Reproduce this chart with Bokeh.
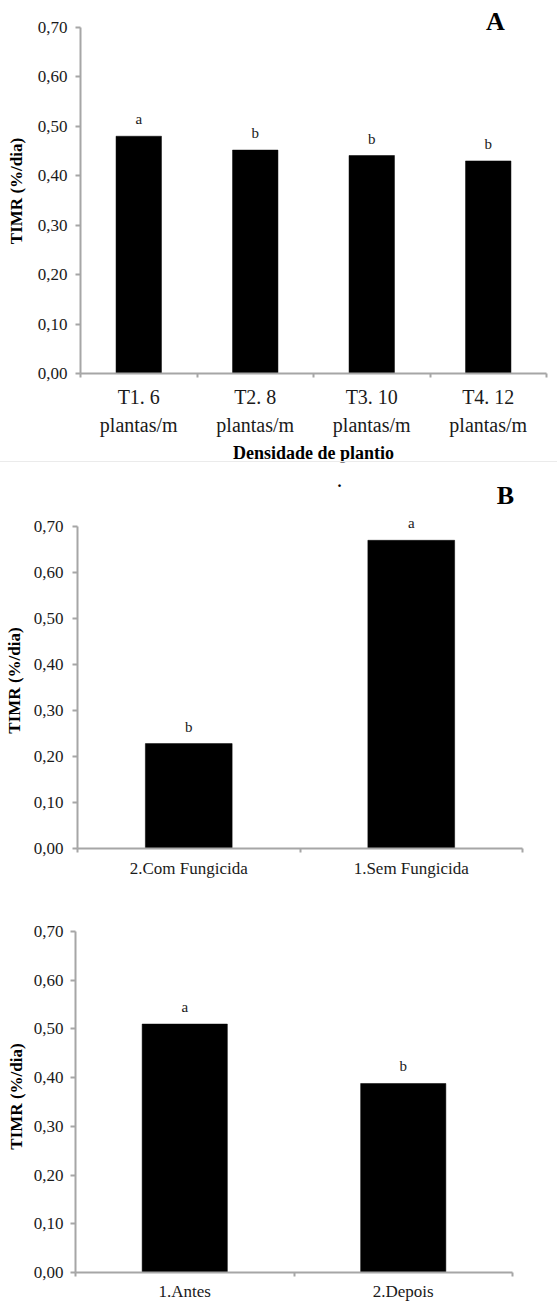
from bokeh.plotting import figure
from bokeh.models import (FactorRange, Range1d, LinearAxis, CategoricalAxis, FixedTicker,
                          CustomJSTickFormatter, ColumnDataSource, LabelSet, Label, Div)
from bokeh.embed import file_html
from bokeh.resources import INLINE

# ---------------- data ----------------
y_ticks = [0.0, 0.1, 0.2, 0.3, 0.4, 0.5, 0.6, 0.7]
y_max = 0.7
y_title = "TIMR (%/dia)"

cats_a = ["T1. 6\nplantas/m", "T2. 8\nplantas/m", "T3. 10\nplantas/m", "T4. 12\nplantas/m"]
vals_a = [0.48, 0.452, 0.441, 0.43]
letters_a = ["a", "b", "b", "b"]
xtitle_a = "Densidade de plantio"

cats_b = ["2.Com Fungicida", "1.Sem Fungicida"]
vals_b = [0.228, 0.67]
letters_b = ["b", "a"]

cats_c = ["1.Antes", "2.Depois"]
vals_c = [0.51, 0.388]
letters_c = ["a", "b"]

# ---------------- style ----------------
FONT = "Liberation Serif"
GRAY = "#a6a6a6"
TXT = "#1a1a1a"
W = 557


def tag_label(text, x, y, size="26px"):
    return Label(x=x, y=y, x_units="screen", y_units="screen",
                 text=text, text_font=FONT, text_font_style="bold",
                 text_font_size=size, text_align="center",
                 text_baseline="middle", text_color="black")


def panel(cats, vals, letters, height, y_top, mb, tick_size, tick_standoff,
          ylab_standoff, xlab_size, cat_standoff, xtitle=None, line_height=1.2):
    left, right, top, bottom = mb
    p = figure(width=W, height=height,
               x_range=FactorRange(factors=cats, range_padding=0),
               y_range=Range1d(0, y_top),
               x_axis_location=None, y_axis_location="left",
               output_backend="svg", toolbar_location=None,
               min_border_left=left, min_border_right=right,
               min_border_top=top, min_border_bottom=bottom)
    p.grid.visible = False
    p.outline_line_color = None
    p.background_fill_color = "white"
    p.border_fill_color = "white"

    src = ColumnDataSource(dict(cat=cats, val=vals, letter=letters))
    p.vbar(x="cat", top="val", width=0.39, source=src,
           fill_color="black", line_color="black", line_width=0.5)

    ya = p.yaxis[0]
    ya.bounds = (0, y_max)
    ya.ticker = FixedTicker(ticks=y_ticks)
    ya.formatter = CustomJSTickFormatter(code="return tick.toFixed(2).replace('.', ',');")
    ya.axis_line_color = GRAY
    ya.axis_line_width = 2
    ya.major_tick_line_color = GRAY
    ya.major_tick_line_width = 2
    ya.major_tick_in = 0
    ya.major_tick_out = 5
    ya.minor_tick_line_color = None
    ya.major_label_text_font = FONT
    ya.major_label_text_font_size = tick_size
    ya.major_label_text_color = TXT
    ya.major_label_standoff = tick_standoff
    ya.axis_label = y_title
    ya.axis_label_text_font = FONT
    ya.axis_label_text_font_style = "bold"
    ya.axis_label_text_font_size = "17px"
    ya.axis_label_text_color = "black"
    ya.axis_label_standoff = ylab_standoff

    # axis line with ticks on the category boundaries (synthetic coords 0..n)
    ea = LinearAxis(ticker=FixedTicker(ticks=list(range(len(cats) + 1))),
                    formatter=CustomJSTickFormatter(code="return '';"),
                    major_label_text_font_size="1px", major_label_standoff=0,
                    axis_line_color=GRAY, axis_line_width=2,
                    major_tick_line_color=GRAY, major_tick_line_width=2,
                    major_tick_in=0, major_tick_out=4,
                    minor_tick_line_color=None)
    p.add_layout(ea, "below")

    ca = CategoricalAxis(axis_line_color=None, major_tick_line_color=None,
                         major_tick_in=0, major_tick_out=0,
                         minor_tick_line_color=None,
                         major_label_standoff=cat_standoff,
                         major_label_text_font=FONT,
                         major_label_text_font_size=xlab_size,
                         major_label_text_color=TXT,
                         major_label_text_line_height=line_height,
                         major_label_orientation="horizontal")
    if xtitle:
        ca.axis_label = xtitle
        ca.axis_label_text_font = FONT
        ca.axis_label_text_font_style = "bold"
        ca.axis_label_text_font_size = "18px"
        ca.axis_label_text_color = "black"
        ca.axis_label_standoff = 4
    p.add_layout(ca, "below")

    p.add_layout(LabelSet(x="cat", y="val", text="letter", source=src,
                          y_offset=17, text_align="center", text_baseline="middle",
                          text_font=FONT, text_font_size="15px", text_color=TXT))
    return p


# panel A
pa = panel(cats_a, vals_a, letters_a, 466, 0.7384, (80, 11, 8, 93),
           "17px", 8, 9, "20px", 8, xtitle=xtitle_a, line_height=1.3)
pa.add_layout(tag_label("A", 415, 352))

# light separator line
sep = Div(text="", width=W, height=1, margin=(-5, 0, 0, 0),
          styles={"background-color": "#ebebeb"})

# small header strip above panel B (holds the "B" tag and the stray dot)
hb = figure(width=W, height=50, x_range=Range1d(0, 1), y_range=Range1d(0, 1),
            x_axis_location=None, y_axis_location=None,
            output_backend="svg", toolbar_location=None,
            min_border=0, min_border_left=0, min_border_right=0,
            min_border_top=0, min_border_bottom=0)
hb.grid.visible = False
hb.outline_line_color = None
hb.add_layout(tag_label("B", 505, 17))
hb.add_layout(tag_label(".", 339, 31, size="16px"))

# panel B
pb = panel(cats_b, vals_b, letters_b, 386, 0.7304, (77, 35, 0, 50),
           "17px", 9, 7, "17px", 6)

# panel C
pc = panel(cats_c, vals_c, letters_c, 406, 0.7226, (75, 45, 22, 32),
           "17px", 7, 5, "17px", 5)
pc.add_layout(tag_label("C", 447, 328))

# separate roots so that the plot frames are not aligned with each other
open("out.html", "w").write(file_html([pa, sep, hb, pb, pc], INLINE))
